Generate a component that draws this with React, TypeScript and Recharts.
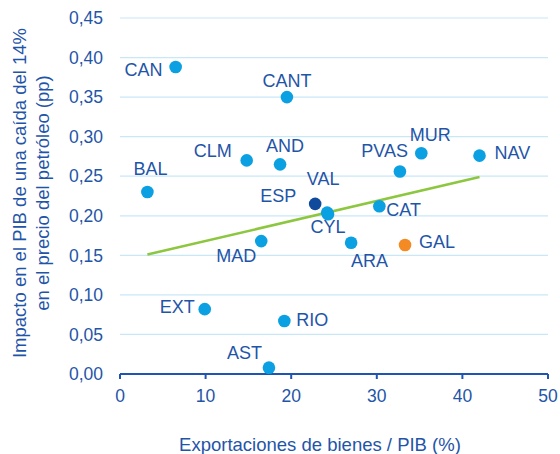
import React from "react";
import {
  CartesianGrid,
  ReferenceLine,
  Scatter,
  ScatterChart,
  XAxis,
  YAxis,
  LabelList,
} from "recharts";

// regions: exports of goods / GDP (%) vs GDP impact of a 14% oil price drop (pp)
const regions = ["CAN", "CANT", "CLM", "AND", "PVAS", "MUR", "NAV", "BAL", "VAL", "CYL", "CAT", "MAD", "ARA", "EXT", "RIO", "AST"];
const exportsPct = [6.5, 19.5, 14.8, 18.7, 32.7, 35.2, 42.0, 3.2, 24.2, 24.3, 30.3, 16.5, 27.0, 9.9, 19.2, 17.4];
const impactPp = [0.388, 0.35, 0.27, 0.265, 0.256, 0.279, 0.276, 0.23, 0.204, 0.202, 0.212, 0.168, 0.166, 0.082, 0.067, 0.008];

const espPoint = { name: "ESP", x: 22.8, y: 0.215 };
const galPoint = { name: "GAL", x: 33.3, y: 0.163 };

const trendX = [3.2, 42];
const trendY = [0.151, 0.249];

const xTicks = [0, 10, 20, 30, 40, 50];
const yTicks = [0, 0.05, 0.1, 0.15, 0.2, 0.25, 0.3, 0.35, 0.4, 0.45];

const regionData = regions.map((name, i) => ({ name, x: exportsPct[i], y: impactPp[i] }));

const BLUE_TEXT = "#1f55a8";
const FONT = "'Liberation Sans', Arial, sans-serif";

// label placement around each dot: dx, dy, anchor
const labelPos: Record<string, [number, number, "start" | "middle" | "end"]> = {
  CAN: [-13, 3, "end"],
  CANT: [0, -16, "middle"],
  CLM: [-15, -9, "end"],
  AND: [5, -18, "middle"],
  PVAS: [8, -20, "end"],
  MUR: [9, -18, "middle"],
  NAV: [15, -3, "start"],
  BAL: [3, -23, "middle"],
  ESP: [-19, -8, "end"],
  VAL: [-4, -34, "middle"],
  CYL: [0, 13, "middle"],
  CAT: [7, 4, "start"],
  MAD: [-5, 15, "end"],
  ARA: [0, 18, "start"],
  GAL: [14, -3, "start"],
  EXT: [-10, -2, "end"],
  RIO: [12, -1, "start"],
  AST: [-7, -15, "end"],
};

const PointLabel = (props: any) => {
  const { x, y, width, height, value } = props;
  const pos = labelPos[value] ?? [0, -15, "middle"];
  const cx = x + width / 2;
  const cy = y + height / 2;
  return (
    <text
      x={cx + pos[0]}
      y={cy + pos[1]}
      textAnchor={pos[2]}
      dominantBaseline="central"
      fill={BLUE_TEXT}
      fontSize={18}
      fontFamily={FONT}
    >
      {value}
    </text>
  );
};

const dot = (color: string) => (props: any) => (
  <circle cx={props.cx} cy={props.cy} r={6.3} fill={color} />
);

const YTitle = (props: any) => {
  const { viewBox } = props;
  const cy = viewBox.y + viewBox.height / 2 - 3;
  return (
    <text
      transform={`rotate(-90, 31, ${cy})`}
      x={31}
      y={cy}
      textAnchor="middle"
      fill={BLUE_TEXT}
      fontSize={18.5}
      fontFamily={FONT}
    >
      <tspan x={31} dy={-5}>Impacto en el PIB de una caída del 14%</tspan>
      <tspan x={31} dy={23}>en el precio del petróleo (pp)</tspan>
    </text>
  );
};

export default function App() {
  return (
    <div style={{ position: "absolute", left: 0, top: 0, background: "#fff" }}>
      <ScatterChart
        width={560}
        height={454}
        margin={{ top: 18, right: 12, left: 0, bottom: 0 }}
      >
        <CartesianGrid vertical={false} stroke="#c9e8f7" strokeWidth={1.2} />
        <XAxis
          type="number"
          dataKey="x"
          domain={[0, 50]}
          ticks={xTicks}
          height={80}
          axisLine={{ stroke: "#1f55b0", strokeWidth: 2 }}
          tickLine={{ stroke: "#1f55b0", strokeWidth: 2 }}
          tickSize={5}
          tickMargin={11}
          tick={{ fill: BLUE_TEXT, fontSize: 17.5, fontFamily: FONT }}
          label={{
            value: "Exportaciones de bienes / PIB (%)",
            position: "insideBottom",
            offset: 3,
            dx: -14,
            fill: BLUE_TEXT,
            fontSize: 18.5,
            fontFamily: FONT,
          }}
        />
        <YAxis
          type="number"
          dataKey="y"
          domain={[0, 0.45]}
          ticks={yTicks}
          width={120}
          axisLine={false}
          tickLine={false}
          tickSize={6}
          tickMargin={11}
          tickFormatter={(v: number) => v.toFixed(2).replace(".", ",")}
          tick={{ fill: BLUE_TEXT, fontSize: 17.5, fontFamily: FONT }}
          label={<YTitle />}
        />
        <ReferenceLine
          segment={[
            { x: trendX[0], y: trendY[0] },
            { x: trendX[1], y: trendY[1] },
          ]}
          stroke="#8dc63f"
          strokeWidth={2.5}
          ifOverflow="visible"
        />
        <Scatter data={regionData} shape={dot("#0aa0e1")} isAnimationActive={false}>
          <LabelList dataKey="name" content={<PointLabel />} />
        </Scatter>
        <Scatter data={[galPoint]} shape={dot("#f48a24")} isAnimationActive={false}>
          <LabelList dataKey="name" content={<PointLabel />} />
        </Scatter>
        <Scatter data={[espPoint]} shape={dot("#0f4a9c")} isAnimationActive={false}>
          <LabelList dataKey="name" content={<PointLabel />} />
        </Scatter>
      </ScatterChart>
    </div>
  );
}
